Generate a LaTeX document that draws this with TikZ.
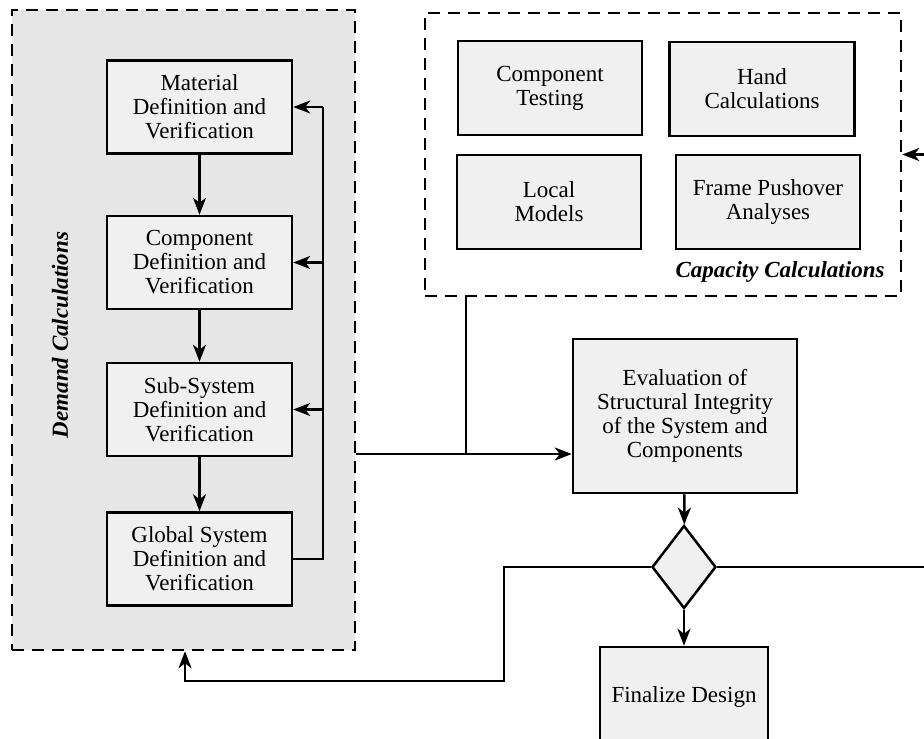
\documentclass[tikz,border=0pt]{standalone}
\usepackage{fontspec}
\setmainfont{Liberation Serif}
\usepackage{xcolor}
\definecolor{cLine}{HTML}{000000}
\definecolor{cPanel}{HTML}{E6E6E6}
\definecolor{cBox}{HTML}{F0F0F0}
\usepackage{tikz}
\usetikzlibrary{positioning,arrows.meta,shapes.geometric}
\tikzset{
  node-box/.style={draw=cLine,line width=2.5pt,fill=cBox,inner sep=0pt,
    minimum width=185pt,minimum height=93pt,align=center,
    font=\fontsize{23}{24}\selectfont},
  node-panel/.style={draw=cLine,line width=2.5pt,dash pattern=on 12pt off 8pt,inner sep=0pt},
  node-decision/.style={draw=cLine,line width=2.5pt,fill=cBox,diamond,inner sep=0pt,
    minimum width=64pt,minimum height=83pt},
  node-title/.style={font=\fontsize{23}{24}\selectfont\bfseries\itshape},
  arrow/.style={-{Stealth[length=17pt,width=13pt,inset=5pt]},line width=2.5pt,draw=cLine},
  line/.style={line width=2.5pt,draw=cLine},
}
\begin{document}
\begin{tikzpicture}[x=1pt,y=-1pt]
  \clip (0,0) rectangle (924,739);
  % panels
  \node[node-panel,fill=cPanel,minimum width=343pt,minimum height=640pt] (dem) at (183.5,330) {};
  \node[node-panel,minimum width=476pt,minimum height=283pt] (cap) at (663,154.5) {};
  \node[node-title,rotate=90] (dem-t) at (60,335) {Demand Calculations};
  \node[node-title,anchor=east] (cap-t) at (888,272) {Capacity Calculations};
  % demand column
  \node[node-box] (mat)  at (199.5,107)   {Material\\Definition and\\Verification};
  \node[node-box] (comp) at (199.5,262.5) {Component\\Definition and\\Verification};
  \node[node-box] (sub)  at (199.5,409.5) {Sub-System\\Definition and\\Verification};
  \node[node-box] (glob) at (199.5,559)   {Global System\\Definition and\\Verification};
  % capacity boxes
  \node[node-box,minimum width=184pt,minimum height=94pt] (test)  at (550,88)  {Component\\Testing};
  \node[node-box,minimum width=185pt,minimum height=94pt] (hand)  at (762,89)  {Hand\\Calculations};
  \node[node-box,minimum width=184pt,minimum height=94pt] (local) at (549,202) {Local\\Models};
  \node[node-box,minimum width=184pt,minimum height=94pt] (push)  at (768,202) {Frame Pushover\\Analyses};
  % evaluation
  \node[node-box,minimum width=224pt,minimum height=154pt] (eval) at (685,416)
    {Evaluation of\\Structural Integrity\\of the System and\\Components};
  \node[node-decision] (dia) at (684,567) {};
  \node[node-box,minimum width=168pt,minimum height=100pt] (fin) at (684,697) {Finalize Design};
  \draw[arrow] (mat) -- (comp);
  \draw[arrow] (comp) -- (sub);
  \draw[arrow] (sub) -- (glob);
  \coordinate (fb) at (323,0);
  \draw[line] (glob.east) -- (glob.east -| fb) -- (mat.east -| fb);
  \draw[arrow] (mat.east -| fb) -- (mat.east);
  \draw[arrow] (comp.east -| fb) -- (comp.east);
  \draw[arrow] (sub.east -| fb) -- (sub.east);
  \coordinate (jn) at (466,454);
  \draw[arrow] (dem.east |- jn) -- (jn -| eval.west);
  \draw[line] (cap.south -| jn) -- (jn);
  \draw[arrow] (eval) -- (dia);
  \draw[arrow] (dia) -- (fin);
  \coordinate (lt) at (504,681);
  \coordinate (ret) at (185,681);
  \draw[arrow] (dia.west) -| (lt) -- (ret) -- (ret |- dem.south);
  \coordinate (rt) at (940,567);
  \draw[arrow] (dia.east) -- (rt) |- (cap.east);
\end{tikzpicture}
\end{document}
